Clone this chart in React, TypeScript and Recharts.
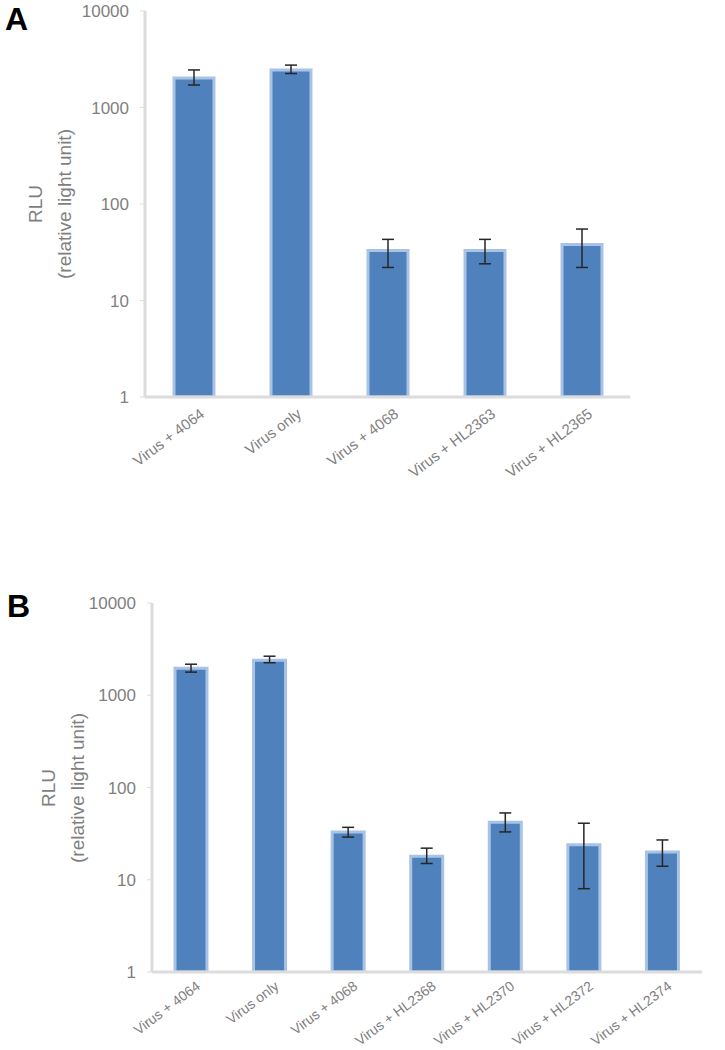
import React from 'react'
import { BarChart, Bar, XAxis, YAxis, ErrorBar } from 'recharts'

const TICKS = [1, 10, 100, 1000, 10000]

const catsA = ['Virus + 4064', 'Virus only', 'Virus + 4068', 'Virus + HL2363', 'Virus + HL2365']
const rluA = [2020, 2450, 33, 33, 38]
const lowA = [1710, 2250, 22, 24, 22]
const highA = [2450, 2750, 43, 43, 55]

const catsB = ['Virus + 4064', 'Virus only', 'Virus + 4068', 'Virus + HL2368', 'Virus + HL2370', 'Virus + HL2372', 'Virus + HL2374']
const rluB = [1960, 2400, 33, 18, 42, 24, 20]
const lowB = [1780, 2250, 29, 15, 33, 8, 14]
const highB = [2170, 2650, 37, 22, 53, 41, 27]

const BLUE = '#4f81bd'
const EDGE = '#a8c3e5'
const GREY = '#7f7f7f'
const AXIS = '#dcdcdc'
const FONT = 'Liberation Sans, Arial, sans-serif'

type Row = { name: string; v: number; err: [number, number] }

const build = (cats: string[], v: number[], lo: number[], hi: number[]): Row[] =>
  cats.map((name, i) => ({ name, v: v[i], err: [v[i] - lo[i], hi[i] - v[i]] }))

const dataA = build(catsA, rluA, lowA, highA)
const dataB = build(catsB, rluB, lowB, highB)

function XTick({ x, y, payload, fs, dx, dy }: any) {
  const tx = x + dx
  const ty = y + dy
  return (
    <text x={tx} y={ty} transform={`rotate(-37, ${tx}, ${ty})`} textAnchor="end"
      fontSize={fs} fill={GREY} fontFamily={FONT}>
      {payload.value}
    </text>
  )
}

function YLabel({ cx, cy }: { cx: number; cy: number }) {
  return (
    <g fontFamily={FONT} fill={GREY} fontSize={19}>
      <text x={cx - 29} y={cy} transform={`rotate(-90, ${cx - 29}, ${cy})`} textAnchor="middle" dominantBaseline="central">RLU</text>
      <text x={cx} y={cy} transform={`rotate(-90, ${cx}, ${cy})`} textAnchor="middle" dominantBaseline="central">(relative light unit)</text>
    </g>
  )
}

function Panel({ data, width, height, margin, yw, barSize, fs, dx, dy, xh, lx, ly }: any) {
  return (
    <BarChart width={width} height={height} data={data} margin={margin}>
      <XAxis dataKey="name" interval={0} height={xh} axisLine={{ stroke: AXIS, strokeWidth: 3 }}
        tickLine={false} tick={<XTick fs={fs} dx={dx} dy={dy} />} />
      <YAxis type="number" scale="log" domain={[1, 10000]} ticks={TICKS} allowDataOverflow width={yw}
        axisLine={{ stroke: AXIS, strokeWidth: 3 }} tickLine={{ stroke: AXIS }} tickSize={5} tickMargin={11}
        tick={{ fontSize: 17, fill: GREY, fontFamily: FONT }}
        label={{ content: () => <YLabel cx={lx} cy={ly} /> }} />
      <Bar dataKey="v" fill={BLUE} stroke={EDGE} strokeWidth={3} barSize={barSize} isAnimationActive={false}>
        <ErrorBar dataKey="err" stroke="#262626" strokeWidth={1.5} width={6} />
      </Bar>
    </BarChart>
  )
}

export default function App() {
  const letter: React.CSSProperties = {
    position: 'absolute', fontFamily: FONT, fontWeight: 'bold',
    fontSize: 32, lineHeight: '32px', color: '#000',
  }
  return (
    <div style={{ position: 'absolute', left: 0, top: 0, width: 725, height: 1050, background: '#fff' }}>
      <div style={{ ...letter, left: 5, top: 3 }}>A</div>
      <div style={{ ...letter, left: 7, top: 590 }}>B</div>
      <div style={{ position: 'absolute', left: 0, top: 0 }}>
        <Panel data={dataA} width={725} height={520} margin={{ top: 11, right: 95, bottom: 0, left: 0 }}
          yw={145} barSize={40} fs={15} dx={12} dy={11} xh={123} lx={64} ly={204} />
      </div>
      <div style={{ position: 'absolute', left: 0, top: 560 }}>
        <Panel data={dataB} width={725} height={490} margin={{ top: 43, right: 23, bottom: 0, left: 0 }}
          yw={152} barSize={32} fs={14} dx={10} dy={8} xh={78} lx={77} ly={228} />
      </div>
    </div>
  )
}
